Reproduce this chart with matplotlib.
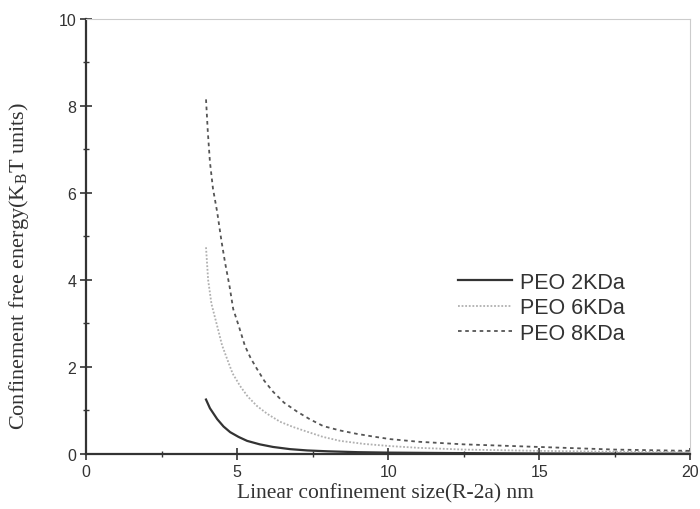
import matplotlib
matplotlib.use('Agg')
import matplotlib.pyplot as plt
from matplotlib.ticker import MultipleLocator

# values
x_2k = [3.97, 4.10, 4.34, 4.55, 4.77, 5.05, 5.33, 5.75, 6.19, 6.75, 7.32, 8.0, 9.0, 10.0, 12.0, 15.0, 20.0]
y_2k = [1.25, 1.05, 0.80, 0.63, 0.50, 0.39, 0.30, 0.22, 0.16, 0.11, 0.08, 0.06, 0.04, 0.03, 0.02, 0.01, 0.005]

x_6k = [3.97, 4.04, 4.15, 4.34, 4.50, 4.67, 4.85, 5.10, 5.35, 5.66, 6.0, 6.42, 6.85, 7.32, 7.85, 8.41, 9.2, 10.07, 11.0, 12.5, 15.0, 17.5, 20.0]
y_6k = [4.75, 4.00, 3.45, 2.94, 2.50, 2.18, 1.85, 1.56, 1.32, 1.10, 0.92, 0.74, 0.62, 0.51, 0.39, 0.30, 0.23, 0.18, 0.14, 0.10, 0.07, 0.05, 0.04]

x_8k = [3.97, 4.03, 4.10, 4.20, 4.34, 4.48, 4.60, 4.75, 4.87, 5.05, 5.26, 5.45, 5.66, 5.90, 6.19, 6.55, 6.99, 7.40, 7.85, 8.40, 8.97, 9.5, 10.07, 11.0, 12.5, 15.0, 17.5, 20.0]
y_8k = [8.15, 7.40, 6.71, 6.10, 5.56, 4.90, 4.40, 3.85, 3.33, 2.95, 2.48, 2.20, 1.95, 1.68, 1.43, 1.18, 0.97, 0.80, 0.64, 0.54, 0.46, 0.40, 0.34, 0.28, 0.22, 0.16, 0.10, 0.07]

labels = ['PEO 2KDa', 'PEO 6KDa', 'PEO 8KDa']


def main():
    fig = plt.figure(figsize=(7, 5.1), dpi=100)
    ax = fig.add_axes([0.123, 0.108, 0.863, 0.853])

    ax.plot(x_2k, y_2k, color='#333333', lw=1.6, ls='-', label=labels[0])
    ax.plot(x_6k, y_6k, color='#b0b0b0', lw=1.3, ls=(0, (1, 1)), label=labels[1])
    ax.plot(x_8k, y_8k, color='#555555', lw=1.3, ls=(0, (2, 2)), label=labels[2])

    ax.set_xlim(0, 20)
    ax.set_ylim(0, 10)
    ax.xaxis.set_major_locator(MultipleLocator(5))
    ax.xaxis.set_minor_locator(MultipleLocator(2.5))
    ax.yaxis.set_major_locator(MultipleLocator(2))
    ax.yaxis.set_minor_locator(MultipleLocator(1))
    ax.tick_params(which='major', direction='inout', length=8, width=1.2,
                   labelsize=11.5, colors='#333333', pad=3)
    ax.tick_params(which='minor', direction='inout', length=5, width=1.0, colors='#333333')
    for lab in ax.get_xticklabels() + ax.get_yticklabels():
        lab.set_family('Liberation Sans')

    ax.spines['left'].set_color('#333333')
    ax.spines['left'].set_linewidth(1.6)
    ax.spines['bottom'].set_color('#333333')
    ax.spines['bottom'].set_linewidth(1.6)
    ax.spines['top'].set_color('#cccccc')
    ax.spines['right'].set_color('#cccccc')

    ax.set_xlabel('Linear confinement size(R-2a) nm', family='Liberation Serif',
                  fontsize=15.5, color='#333333')
    ax.set_ylabel(r'Confinement free energy(K$_\mathregular{B}$T units)',
                  family='Liberation Serif', fontsize=16, color='#333333')
    ax.xaxis.set_label_coords(0.495, -0.068)
    ax.yaxis.set_label_coords(-0.092, 0.434)

    leg = ax.legend(loc='center left', bbox_to_anchor=(0.616, 0.336), frameon=False,
                    prop={'family': 'Liberation Sans', 'size': 15.5},
                    handlelength=2.5, handletextpad=0.37, labelspacing=0.2,
                    borderpad=0, borderaxespad=0)
    for t in leg.get_texts():
        t.set_color('#333333')

    fig.savefig('out.png', dpi=100)


if __name__ == '__main__':
    main()
